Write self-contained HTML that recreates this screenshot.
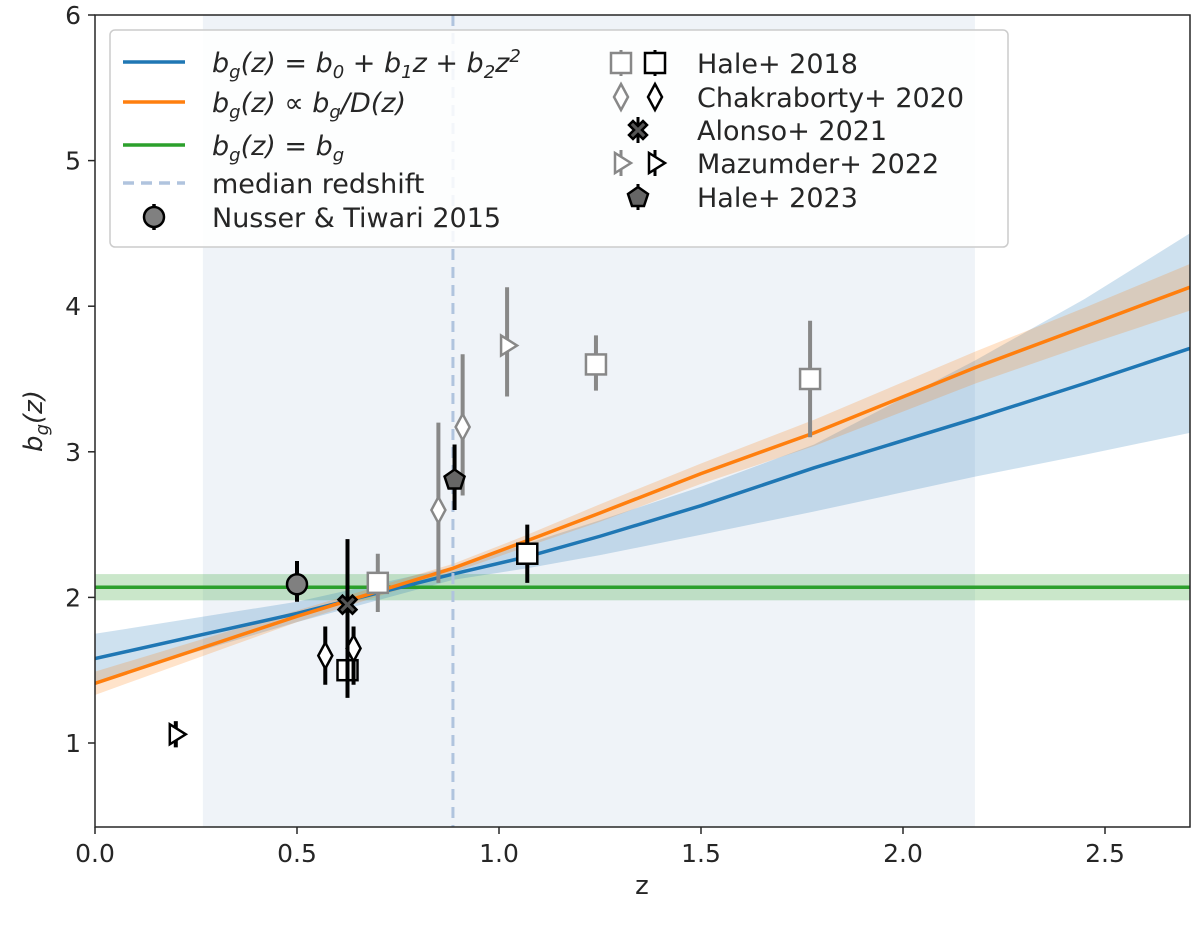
<!DOCTYPE html>
<html><head><meta charset="utf-8"><style>
body{margin:0;background:#fff;}
svg text{font-family:"DejaVu Sans","Liberation Sans",sans-serif;fill:#262626;}
</style></head><body>
<svg id="chart" width="1200" height="927" xmlns="http://www.w3.org/2000/svg">
<g id="plot"></g>
<g id="axes"></g>
<g id="legend"></g>
</svg>
<script>
const NS="http://www.w3.org/2000/svg";
const xTicks=[0,0.5,1.0,1.5,2.0,2.5];
const xTickLabels=["0.0","0.5","1.0","1.5","2.0","2.5"];
const yTicks=[1,2,3,4,5,6];
const yTickLabels=["1","2","3","4","5","6"];
const zRange=[0.267,2.178];
const zMedian=0.886;
const curveZ=[0,0.5,0.886,1.07,1.25,1.5,1.78,2.18,2.45,2.71];
const blueLine=[1.58,1.89,2.16,2.28,2.42,2.63,2.89,3.23,3.47,3.71];
const blueLo=[1.42,1.83,2.12,2.20,2.29,2.43,2.59,2.83,2.98,3.13];
const blueHi=[1.75,1.97,2.21,2.37,2.53,2.76,3.05,3.63,4.05,4.50];
const orangeLine=[1.41,1.87,2.20,2.39,2.58,2.85,3.13,3.58,3.86,4.13];
const orangeLo=[1.33,1.83,2.17,2.35,2.52,2.78,3.04,3.47,3.73,3.97];
const orangeHi=[1.49,1.91,2.23,2.43,2.64,2.92,3.22,3.69,3.99,4.29];
const greenVal=2.07, greenLo=1.98, greenHi=2.16;
// points: [z, b, lo, hi]
const nusser=[[0.5,2.09,1.97,2.25]];
const hale18Gray=[[0.70,2.10,1.90,2.30],[1.24,3.60,3.42,3.80],[1.77,3.50,3.10,3.90]];
const hale18Black=[[0.625,1.50,1.31,1.69],[1.07,2.30,2.10,2.50]];
const chakGray=[[0.85,2.60,2.10,3.20],[0.91,3.17,2.70,3.67]];
const chakBlack=[[0.57,1.60,1.40,1.80],[0.64,1.65,1.40,1.80]];
const alonso=[[0.625,1.95,1.40,2.40]];
const mazGray=[[1.02,3.73,3.38,4.13]];
const mazBlack=[[0.20,1.06,0.97,1.15]];
const hale23=[[0.89,2.81,2.60,3.05]];

const L=95,R=1190,T=15,B=827;
const X=z=>L+404*z;
const Y=b=>T+(6-b)*145.6;
function mk(tag,attrs,parent){const e=document.createElementNS(NS,tag);for(const k in attrs)e.setAttribute(k,attrs[k]);parent.appendChild(e);return e;}
const plot=document.getElementById('plot'),axes=document.getElementById('axes'),leg=document.getElementById('legend');
const clip=mk('clipPath',{id:'cp'},plot);mk('rect',{x:L,y:T,width:R-L,height:B-T},clip);
const g=mk('g',{'clip-path':'url(#cp)'},plot);
let e=mk('rect',{x:X(zRange[0]),y:T,width:X(zRange[1])-X(zRange[0]),height:B-T,fill:'#b0c4de',opacity:0.2},g);

function band(lo,hi,col,op,name){let d='';curveZ.forEach((z,i)=>d+=(i?'L':'M')+X(z)+' '+Y(hi[i]));for(let i=curveZ.length-1;i>=0;i--)d+='L'+X(curveZ[i])+' '+Y(lo[i]);d+='Z';
 const p=mk('path',{d:d,fill:col,opacity:op},g);}
function line(v,col,name){const p=mk('polyline',{points:curveZ.map((z,i)=>X(z)+','+Y(v[i])).join(' '),fill:'none',stroke:col,'stroke-width':3.5,'stroke-linejoin':'round'},g);}
e=mk('rect',{x:L,y:Y(greenHi),width:R-L,height:Y(greenLo)-Y(greenHi),fill:'#2ca02c',opacity:0.25},g);

band(blueLo,blueHi,'#1f77b4',0.22,'quadratic-bias-band');
band(orangeLo,orangeHi,'#ff7f0e',0.22,'growth-bias-band');
e=mk('line',{x1:L,x2:R,y1:Y(greenVal),y2:Y(greenVal),stroke:'#2ca02c','stroke-width':3.5},g);

line(blueLine,'#1f77b4','quadratic-bias-line');
line(orangeLine,'#ff7f0e','growth-bias-line');
e=mk('line',{x1:X(zMedian),x2:X(zMedian),y1:T,y2:B,stroke:'#b0c4de','stroke-width':3,'stroke-dasharray':'11,7'},g);

function marker(type,cx,cy,fill,stroke,parent){
 let a={fill:fill,stroke:stroke,'stroke-width':2.5};
 if(type==='o')return mk('circle',Object.assign({cx:cx,cy:cy,r:10},a),parent);
 if(type==='s')return mk('rect',Object.assign({x:cx-10,y:cy-10,width:20,height:20},a),parent);
 if(type==='d')return mk('polygon',Object.assign({points:`${cx},${cy-13} ${cx+7},${cy} ${cx},${cy+13} ${cx-7},${cy}`},a),parent);
 if(type==='x')return mk('path',Object.assign({d:`M${cx-9} ${cy-5}L${cx-5} ${cy-9}L${cx} ${cy-4}L${cx+5} ${cy-9}L${cx+9} ${cy-5}L${cx+4} ${cy}L${cx+9} ${cy+5}L${cx+5} ${cy+9}L${cx} ${cy+4}L${cx-5} ${cy+9}L${cx-9} ${cy+5}L${cx-4} ${cy}Z`},a),parent);
 if(type==='>')return mk('polygon',Object.assign({points:`${cx+10},${cy} ${cx-6},${cy-10} ${cx-6},${cy+10}`},a),parent);
 if(type==='p')return mk('polygon',Object.assign({points:`${cx},${cy-10} ${cx+10},${cy-3} ${cx+6},${cy+9} ${cx-6},${cy+9} ${cx-10},${cy-3}`},a),parent);
}
function series(pts,type,ecol,fill,mstroke,name){
 const sg=mk('g',{},g);
 pts.forEach(p=>{const l=mk('line',{x1:X(p[0]),x2:X(p[0]),y1:Y(p[2]),y2:Y(p[3]),stroke:ecol,'stroke-width':4},sg);
  
  const m=marker(type,X(p[0]),Y(p[1]),fill,mstroke,sg);
  });
}
series(nusser,'o','#000','#808080','#000','nusser-2015');
series(hale18Gray,'s','#888','#fff','#888','hale-2018-gray');
series(hale18Black,'s','#000','#fff','#000','hale-2018-black');
series(chakGray,'d','#888','#fff','#888','chakraborty-2020-gray');
series(chakBlack,'d','#000','#fff','#000','chakraborty-2020-black');
series(alonso,'x','#000','#555','#000','alonso-2021');
series(mazGray,'>','#888','#fff','#888','mazumder-2022-gray');
series(mazBlack,'>','#000','#fff','#000','mazumder-2022-black');
series(hale23,'p','#000','#666','#000','hale-2023');
// axes
e=mk('rect',{x:L,y:T,width:R-L,height:B-T,fill:'none',stroke:'#262626','stroke-width':1.5},axes);

xTicks.forEach((v,i)=>{mk('line',{x1:X(v),x2:X(v),y1:B,y2:B+7,stroke:'#262626','stroke-width':1.5},axes);
 const t=mk('text',{x:X(v),y:B+35,'text-anchor':'middle','font-size':25},axes);t.textContent=xTickLabels[i];
 });
yTicks.forEach((v,i)=>{mk('line',{x1:L-7,x2:L,y1:Y(v),y2:Y(v),stroke:'#262626','stroke-width':1.5},axes);
 const t=mk('text',{x:L-14,y:Y(v)+9,'text-anchor':'end','font-size':25},axes);t.textContent=yTickLabels[i];
 });
e=mk('text',{x:642,y:894,'text-anchor':'middle','font-size':26},axes);e.textContent='z';

e=mk('text',{x:0,y:0,'text-anchor':'middle','font-size':26,'font-style':'italic',transform:'translate(42,421) rotate(-90)'},axes);
e.innerHTML='b<tspan font-size="18" dy="6">g</tspan><tspan dy="-6">(z)</tspan>';

// legend
e=mk('rect',{x:110,y:30,width:898,height:217,rx:5,fill:'#fff','fill-opacity':0.85,stroke:'#ccc','stroke-width':1.5},leg);

const sub=s=>`<tspan font-size="18" dy="6">${s}</tspan><tspan dy="-6">`;
const leftLabels=[
 `b${sub('g')}(z) = b${sub('0')} + b${sub('1')}z + b${sub('2')}z<tspan font-size="18" dy="-10">2</tspan><tspan dy="10"></tspan></tspan></tspan></tspan>`,
 `b${sub('g')}(z) ∝ b${sub('g')}/D(z)</tspan></tspan>`,
 `b${sub('g')}(z) = b${sub('g')}</tspan></tspan>`,
 'median redshift','Nusser &amp; Tiwari 2015'];
const leftE=[['#1f77b4','solid'],['#ff7f0e','solid'],['#2ca02c','solid'],['#b0c4de','dash'],[null,'o']];
const leftY=[62,102,145,183,217];
leftE.forEach((en,i)=>{const y=leftY[i];const eg=mk('g',{},leg);
 if(en[0]){mk('line',{x1:123,x2:185,y1:y,y2:y,stroke:en[0],'stroke-width':3.5,'stroke-dasharray':en[1]==='dash'?'11,7':'none'},eg);}
 else{mk('line',{x1:154,x2:154,y1:y-13,y2:y+13,stroke:'#000','stroke-width':3.5},eg);marker('o',154,y,'#808080','#000',eg);}
 const t=mk('text',{x:212,y:y+10,'font-size':27,'font-style':i<3?'italic':'normal'},eg);t.innerHTML=leftLabels[i];});
const rightE=[['s','Hale+ 2018',true],['d','Chakraborty+ 2020',true],['x','Alonso+ 2021',false],['>','Mazumder+ 2022',true],['p','Hale+ 2023',false]];
const rightY=[63,97,130,163,197];
rightE.forEach((en,i)=>{const y=rightY[i];const eg=mk('g',{},leg);
 if(en[2]){mk('line',{x1:621,x2:621,y1:y-13,y2:y+13,stroke:'#888','stroke-width':3},eg);marker(en[0],621,y,'#fff','#888',eg);
  mk('line',{x1:655,x2:655,y1:y-13,y2:y+13,stroke:'#000','stroke-width':3},eg);marker(en[0],655,y,'#fff','#000',eg);}
 else{mk('line',{x1:638,x2:638,y1:y-13,y2:y+13,stroke:'#000','stroke-width':3},eg);marker(en[0],638,y,en[0]==='x'?'#555':'#666','#000',eg);}
 const t=mk('text',{x:697,y:y+10,'font-size':27},eg);t.textContent=en[1];});
</script>
</body></html>
